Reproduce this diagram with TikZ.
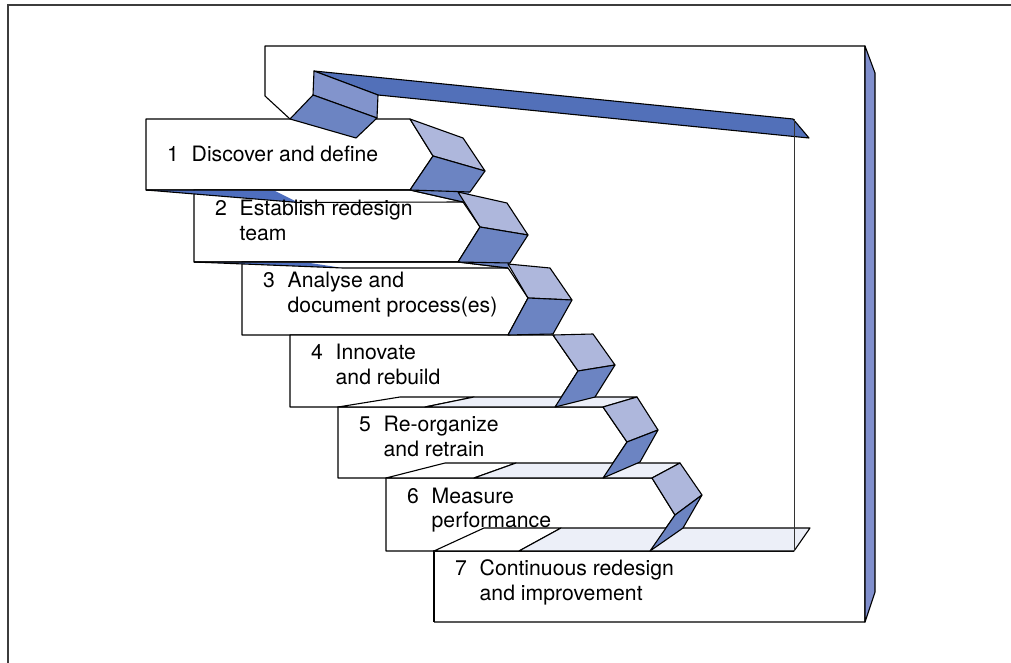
\documentclass[tikz,border=0pt]{standalone}
\usepackage{fontspec}
\setmainfont{TeX Gyre Heros}
\definecolor{lightface}{RGB}{174,183,220}
\definecolor{darkface}{RGB}{108,132,194}
\definecolor{stripblue}{RGB}{82,112,185}
\definecolor{midface}{RGB}{130,148,204}
\definecolor{sidestrip}{RGB}{128,143,205}
\definecolor{wedgeblue}{RGB}{78,110,190}
\definecolor{treadlight}{RGB}{236,239,248}
\definecolor{framegray}{RGB}{60,60,60}
\begin{document}
\begin{tikzpicture}[x=1pt,y=-1pt,
  ol/.style={draw=black,line width=1.1pt,line join=round},
  lf/.style={ol,fill=lightface},
  df/.style={ol,fill=darkface},
  wf/.style={ol,fill=white},
  tl/.style={ol,fill=treadlight},
  lbl/.style={anchor=base west,inner sep=0pt,font=\fontsize{21.2}{24}\selectfont}]
\useasboundingbox (0,0) rectangle (1011,663);
% outer frame
\draw[line width=2pt,draw=framegray] (8,663) -- (8,5) -- (1011,5);
% back panel
\draw[ol] (290,119)--(265,96)--(265,46)--(865,46)--(865,622)--(434,622);
\draw[ol,fill=sidestrip] (865,46)--(875,73)--(875,592)--(865,622)--cycle;
% riser 1
\draw[wf] (146,119)--(410,119)--(433,156)--(410,190)--(146,190)--cycle;
% top return strip
\draw[ol,fill=stripblue] (314,71)--(793,119)--(809,138)--(378,95)--cycle;
\draw[ol,fill=midface] (314,71)--(378,95)--(377,118)--(313,95)--cycle;
\draw[ol,fill=darkface] (313,95)--(377,118)--(356,138)--(290,119)--cycle;
% riser 2
\draw[wf] (194,190)--(410,190)--(463,202)--(480,227)--(458,262)--(194,262)--cycle;
\fill[wedgeblue] (146,190)--(275,191)--(298,202.5)--cycle;
\fill[darkface] (410,190)--(470,192)--(463,202)--cycle;
\draw[ol] (146,190)--(298,202.5)--(463,202);
\draw[ol] (146,190)--(410,190)--(463,202);
% riser 3
\draw[wf] (242,262)--(458,262)--(508,268)--(528,298)--(508,335)--(242,335)--cycle;
\fill[wedgeblue] (194,262)--(310,263)--(343,268)--cycle;
\fill[darkface] (458,262)--(510,263)--(508,268)--cycle;
\draw[ol] (194,262)--(343,268)--(508,268);
\draw[ol] (194,262)--(458,262)--(508,268);
% riser 4
\draw[wf] (290,335)--(553,335)--(578,371)--(555,407)--(290,407)--cycle;
% riser 5 and tread
\draw[wf] (338,407)--(603,407)--(627,442)--(603,478)--(338,478)--cycle;
\draw[wf] (338,407)--(400,397)--(474,397)--(425,407)--cycle;
\draw[tl] (425,407)--(474,397)--(637,397)--(603,407)--cycle;
% riser 6 and tread
\draw[wf] (386,478)--(652,478)--(675,515)--(650,551)--(386,551)--cycle;
\draw[wf] (386,478)--(445,463)--(516,463)--(474,478)--cycle;
\draw[tl] (474,478)--(516,463)--(680,463)--(652,478)--cycle;
% riser 7 and tread
\fill[white] (434.6,551) rectangle (864.4,621.4);
\draw[ol] (434,622)--(434,551)--(794,551);
\draw[wf] (434,551)--(484,528)--(561,528)--(519,551)--cycle;
\draw[tl] (519,551)--(561,528)--(810,528)--(794,551)--cycle;
% chevrons
\draw[lf] (410,119)--(463,138)--(485,171)--(433,156)--cycle;
\draw[df] (433,156)--(485,171)--(470,192)--(410,190)--cycle;
\draw[lf] (458,192)--(507,203)--(528,235)--(480,227)--cycle;
\draw[df] (480,227)--(528,235)--(510,263)--(458,262)--cycle;
\draw[lf] (508,264)--(550,268)--(572,300)--(528,298)--cycle;
\draw[df] (528,298)--(572,300)--(553,334)--(508,335)--cycle;
\draw[lf] (553,335)--(593,334)--(615,365)--(578,371)--cycle;
\draw[df] (578,371)--(615,365)--(595,397)--(555,407)--cycle;
\draw[lf] (603,407)--(637,397)--(658,430)--(627,442)--cycle;
\draw[df] (627,442)--(658,430)--(640,462)--(603,478)--cycle;
\draw[lf] (652,478)--(680,463)--(702,495)--(675,515)--cycle;
\draw[df] (675,515)--(702,495)--(683,528)--(650,551)--cycle;
% inner back line
\draw[line width=1pt,draw=black!80] (794,119)--(794,551);
% labels
\node[lbl] (n1) at (167,162) {1};
\node[lbl] (t1a) at (191.5,162) {Discover and define};
\node[lbl] (n2) at (215,215) {2};
\node[lbl] (t2a) at (239.5,215) {Establish redesign};
\node[lbl] (t2b) at (239.5,240) {team};
\node[lbl] (n3) at (263,287) {3};
\node[lbl] (t3a) at (287.5,287) {Analyse and};
\node[lbl] (t3b) at (287.5,312) {document process(es)};
\node[lbl] (n4) at (311,359) {4};
\node[lbl] (t4a) at (335.5,359) {Innovate};
\node[lbl] (t4b) at (335.5,384) {and rebuild};
\node[lbl] (n5) at (359,431) {5};
\node[lbl] (t5a) at (383.5,431) {Re-organize};
\node[lbl] (t5b) at (383.5,456) {and retrain};
\node[lbl] (n6) at (407,503) {6};
\node[lbl] (t6a) at (431.5,503) {Measure};
\node[lbl] (t6b) at (431.5,527) {performance};
\node[lbl] (n7) at (455,575) {7};
\node[lbl] (t7a) at (479.5,575) {Continuous redesign};
\node[lbl] (t7b) at (479.5,600) {and improvement};
\end{tikzpicture}
\end{document}
